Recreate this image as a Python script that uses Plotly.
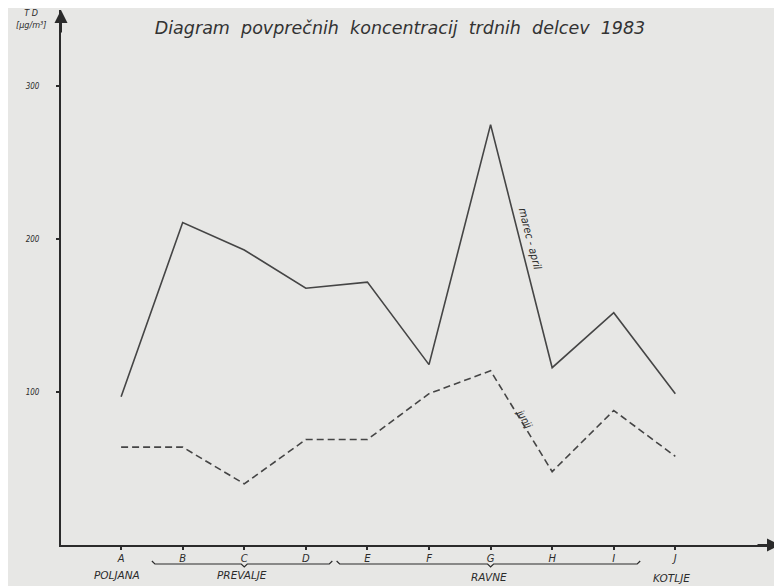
import math
import plotly.graph_objects as go

# ---- data ----
categories = ["A", "B", "C", "D", "E", "F", "G", "H", "I", "J"]
marec_april = [97, 211, 193, 168, 172, 118, 275, 116, 152, 99]
junij = [64, 64, 40, 69, 69, 99, 114, 48, 88, 58]
y_tick_values = [100, 200, 300]
y_tick_labels = ["100", "200", "300"]
regions = ["POLJANA", "PREVALJE", "RAVNE", "KOTLJE"]
region_first = ["A", "B", "E", "J"]
region_last = ["A", "D", "I", "J"]
region_label_at = ["A", "C", "G", "J"]
title_text = "Diagram  povprečnih  koncentracij  trdnih  delcev  1983"
y_label = "T D<br>[μg/m³]"
series_labels = ["marec - april", "junij"]

# ---- layout constants (page body adds an 8px offset) ----
OFF = 8
W, H = 782 - OFF, 586 - OFF
ML, MR, MT, MB = 61 - OFF, 2, 10 - OFF, 41
XR = [-0.976, 10.70]
YR = [0, 350]
PW = W - ML - MR
PH = H - MT - MB
BG = "#e7e7e5"
INK = "#2b2b2b"
LINE = "#454545"
FONT = "DejaVu Sans Condensed, DejaVu Sans, sans-serif"
TFONT = "DejaVu Sans, sans-serif"

xi = list(range(len(categories)))
pos = {c: i for i, c in enumerate(categories)}


def px_per_x():
    return PW / (XR[1] - XR[0])


def px_per_y():
    return PH / (YR[1] - YR[0])


def xpaper(v):
    return (v - XR[0]) / (XR[1] - XR[0])


def ypaper_below(px):
    # px pixels below the x axis -> paper coordinate
    return -px / PH


fig = go.Figure()
fig.add_trace(go.Scatter(x=xi, y=marec_april, mode="lines",
                         line=dict(color=LINE, width=1.6), name=series_labels[0],
                         showlegend=False))
fig.add_trace(go.Scatter(x=xi, y=junij, mode="lines",
                         line=dict(color=LINE, width=1.6, dash="7px,4px"),
                         name=series_labels[1], showlegend=False))

annotations = []
shapes = []

# axis arrows
annotations.append(dict(x=0, y=1, xref="paper", yref="paper", ax=0, ay=24,
                        text="", showarrow=True, arrowhead=2, arrowsize=1.3,
                        arrowwidth=2, arrowcolor=INK))
annotations.append(dict(x=1, y=0, xref="paper", yref="paper", ax=-24, ay=0,
                        text="", showarrow=True, arrowhead=2, arrowsize=1.3,
                        arrowwidth=2, arrowcolor=INK))

# y-axis unit label
annotations.append(dict(x=-30 / PW, y=1.0 + 4 / PH, xref="paper", yref="paper",
                        text=y_label, showarrow=False, xanchor="center",
                        yanchor="top", align="center",
                        font=dict(family=FONT, size=9, color=INK, style="italic")))

# labels along the G-H segments
gi, hi = pos["G"], pos["H"]
for series, lab, frac, xs, fs in [(marec_april, series_labels[0], 0.47, 10, 11),
                                  (junij, series_labels[1], 0.47, 5, 10)]:
    dy = (series[gi] - series[hi]) * px_per_y()
    ang = math.degrees(math.atan2(dy, px_per_x()))
    annotations.append(dict(
        x=gi + frac * (hi - gi),
        y=series[gi] + frac * (series[hi] - series[gi]),
        xref="x", yref="y", text=lab, showarrow=False, textangle=ang,
        xshift=xs, font=dict(family=FONT, size=fs, color=INK, style="italic")))

# region brackets and names
for name, f, l, c in zip(regions, region_first, region_last, region_label_at):
    if f != l:
        x0 = xpaper(pos[f] - 0.5)
        x1 = xpaper(pos[l] + 0.43)
        xc = xpaper(pos[c])
        yb = ypaper_below(19)
        up = 3 / PH
        dx = 3 / PW
        path = (f"M {x0},{yb + up} L {x0 + dx},{yb} L {xc - dx},{yb} "
                f"L {xc},{yb - up} L {xc + dx},{yb} L {x1 - dx},{yb} L {x1},{yb + up}")
        shapes.append(dict(type="path", xref="paper", yref="paper", path=path,
                           line=dict(color=INK, width=1.2)))
    shift = {"POLJANA": -4, "KOTLJE": -4}.get(name, -2)
    below = {"KOTLJE": 33, "RAVNE": 32}.get(name, 30)
    annotations.append(dict(x=pos[c], y=ypaper_below(below), xref="x", yref="paper",
                            text=name, showarrow=False, xshift=shift,
                            yanchor="middle",
                            font=dict(family=TFONT, size=10.5, color=INK, style="italic")))

fig.update_layout(
    width=W, height=H,
    margin=dict(l=ML, r=MR, t=MT, b=MB, pad=0),
    paper_bgcolor=BG, plot_bgcolor=BG,
    title=dict(text=title_text, x=(400 - OFF) / W, y=1 - (28 - OFF) / H,
               xref="container", yref="container", xanchor="center",
               yanchor="middle",
               font=dict(family=TFONT, size=17.5, color="#333333", style="italic")),
    annotations=annotations,
    shapes=shapes,
    showlegend=False,
)
fig.update_xaxes(range=XR, tickvals=xi, ticktext=categories, showgrid=False,
                 zeroline=False, showline=True, linewidth=2, linecolor=INK,
                 ticks="outside", ticklen=3, tickwidth=2, tickcolor=INK,
                 tickfont=dict(family=TFONT, size=10, color=INK, style="italic"))
fig.update_yaxes(range=YR, tickvals=y_tick_values, ticktext=y_tick_labels,
                 showgrid=False, zeroline=False, showline=True, linewidth=2,
                 linecolor=INK, ticks="outside", ticklen=3, tickwidth=2,
                 tickcolor=INK, ticklabelstandoff=15,
                 tickfont=dict(family=FONT, size=8, color=INK, style="italic"))

fig.write_html("out.html")
